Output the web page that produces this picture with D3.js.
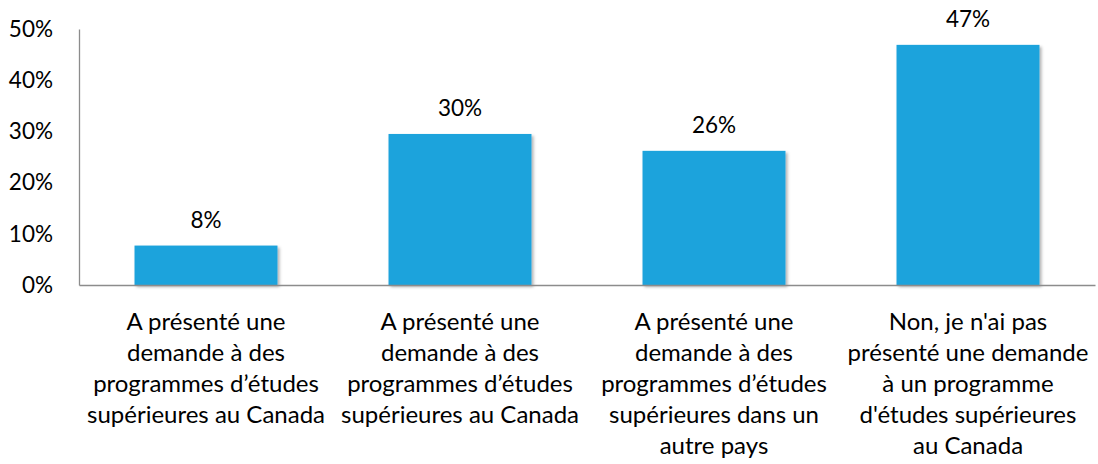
<!DOCTYPE html>
<html><head><meta charset="utf-8">
<script src="https://cdn.jsdelivr.net/npm/d3@7"></script>
<style>body{margin:0;background:#fff}svg{display:block}</style>
</head><body>
<svg id="c" width="1098" height="464"></svg>
<script>
const categories = [
  ["A présenté une","demande à des","programmes d’études","supérieures au Canada"],
  ["A présenté une","demande à des","programmes d’études","supérieures au Canada"],
  ["A présenté une","demande à des","programmes d’études","supérieures dans un","autre pays"],
  ["Non, je n'ai pas","présenté une demande","à un programme","d'études supérieures","au Canada"]
];
const values = [7.7, 29.5, 26.2, 46.9];
const valueLabels = ["8%","30%","26%","47%"];
const yTicks = [0,10,20,30,40,50];
const yTickLabels = ["0%","10%","20%","30%","40%","50%"];

const svg = d3.select("#c");
const font = "Lato, 'Open Sans', sans-serif";
const m = {left:79, right:1095, top:29, bottom:285};
const x = d3.scaleBand().domain(d3.range(categories.length)).range([m.left, m.right]).paddingInner(0.437).paddingOuter(0.2185);
const y = d3.scaleLinear().domain([0,50]).range([m.bottom, m.top]);

const defs = svg.append("defs");
const f = defs.append("filter").attr("id","sh").attr("x","-10%").attr("y","-10%").attr("width","130%").attr("height","130%");
f.append("feDropShadow").attr("dx",2).attr("dy",2).attr("stdDeviation",1.5).attr("flood-color","#000").attr("flood-opacity",0.3);

// bars
svg.append("g").selectAll("rect").data(values).join("rect")
  .attr("x",(d,i)=>x(i)).attr("y",d=>y(d)).attr("width",x.bandwidth()).attr("height",d=>y(0)-y(d))
  .attr("fill","#1ea3dc").attr("filter","url(#sh)");

// y axis
const ya = svg.append("g").attr("transform",`translate(${m.left},0)`)
  .call(d3.axisLeft(y).tickValues(yTicks).tickFormat((d,i)=>yTickLabels[i]).tickSize(0).tickPadding(26));
ya.select(".domain").attr("stroke","#8c8c8c").attr("stroke-width",1.3);
ya.selectAll("text").attr("font-family",font).attr("font-size",22.5).attr("fill","#000");

// x axis
const xa = svg.append("g").attr("transform",`translate(0,${m.bottom})`)
  .call(d3.axisBottom(x).tickSize(0).tickFormat(""));
xa.select(".domain").attr("stroke","#8c8c8c").attr("stroke-width",1.3);
xa.selectAll(".tick").each(function(d,i){
  const t = d3.select(this).append("text").attr("fill","#000").attr("font-family",font).attr("font-size",24)
    .attr("text-anchor","middle").attr("x",0).attr("y",45);
  categories[i].forEach((line,j)=>t.append("tspan").attr("x",0).attr("dy",j?31:0).text(line));
});

// value labels
svg.append("g").selectAll("text").data(values).join("text")
  .attr("x",(d,i)=>x(i)+x.bandwidth()/2).attr("y",d=>y(d)-18)
  .attr("text-anchor","middle").attr("font-family",font).attr("font-size",22.5).attr("fill","#000")
  .text((d,i)=>valueLabels[i]);
</script>
</body></html>
